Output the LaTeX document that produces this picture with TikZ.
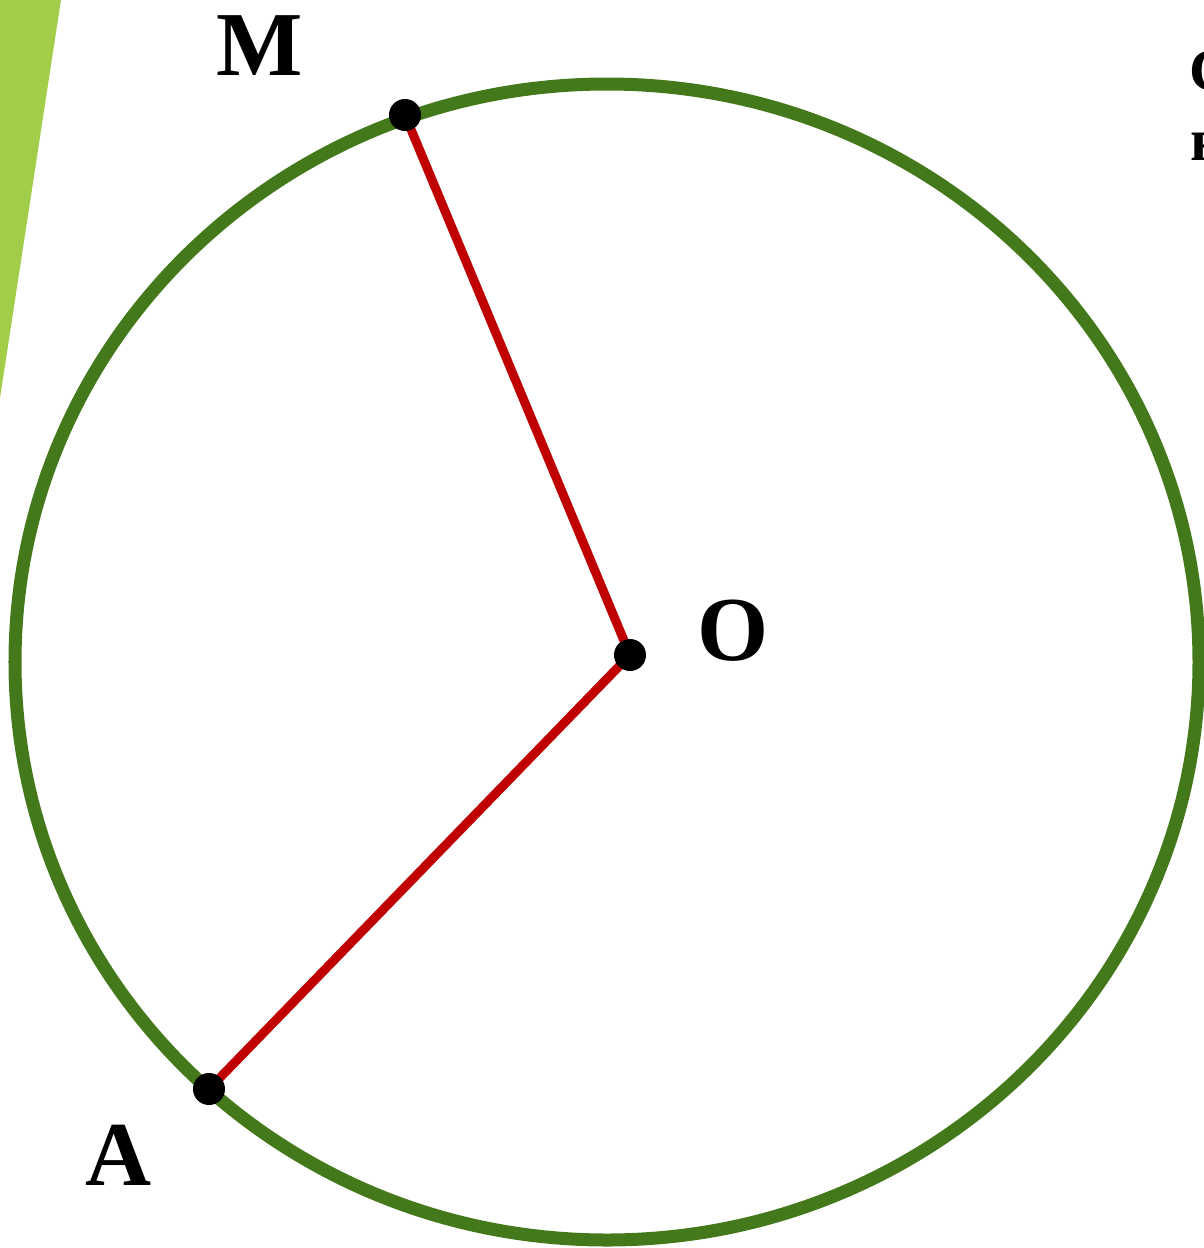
\documentclass[tikz,border=0pt]{standalone}
\usepackage{fontspec}
\setmainfont{Liberation Serif}
\usepackage{tikz}
\usetikzlibrary{arrows.meta,positioning,calc}
\usepackage{xcolor}
\definecolor{circgreen}{HTML}{43791B}
\definecolor{wedgegreen}{HTML}{A2CD48}
\definecolor{radred}{HTML}{C00000}

\tikzset{
  ptlabel/.style={font=\fontsize{26}{30}\selectfont\bfseries,inner sep=0pt},
  dotpt/.style={circle,fill=black,inner sep=0pt,minimum size=0.32cm},
  radius line/.style={draw=radred,line width=0.09cm}
}

\begin{document}
\begin{tikzpicture}[x=0.01cm,y=-0.01cm]
      \useasboundingbox (0,0) rectangle (1204,1248);
      \fill[wedgegreen] (0,0) -- (61,0) -- (0,398) -- cycle;
      \draw[circgreen,line width=0.13cm] (607,662) ellipse [x radius=592,y radius=578];
      \coordinate (O) at (630,655);
      \coordinate (M) at (405,115);
      \coordinate (A) at (209,1089);
      \draw[radius line] (M) -- (O) -- (A);
      \node[dotpt] (dO) at (O) {};
      \node[dotpt] (dM) at (M) {};
      \node[dotpt] (dA) at (A) {};
      \node[ptlabel,anchor=base] (lM) at (260,75) {M};
      \node[ptlabel,anchor=base] (lO) at (733,660) {O};
      \node[ptlabel,anchor=base] (lA) at (119,1185) {A};
      % cut-off text at the right edge
      \node[font=\fontsize{17}{20}\selectfont\bfseries,inner sep=0pt,anchor=base west] (t1) at (1189,90) {С};
      \node[font=\fontsize{17}{20}\selectfont\bfseries,inner sep=0pt,anchor=base west] (t2) at (1190,160) {н};
    \end{tikzpicture}
\end{document}
